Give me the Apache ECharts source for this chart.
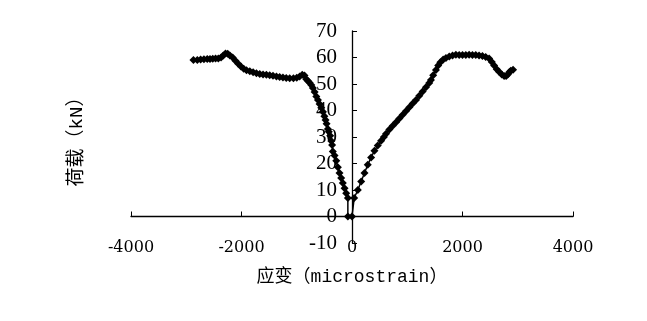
<!DOCTYPE html>
<html>
<head>
<meta charset="utf-8">
<script src="https://cdn.jsdelivr.net/npm/echarts@6/dist/echarts.min.js"></script>
<style>
  html, body { margin: 0; padding: 0; background: #fff; }
  #chart { width: 647px; height: 321px; }
</style>
</head>
<body>
<div id="chart"></div>
<script>
// 压应变一侧 (strain, load)
var leftStrain = [-75, -75, -105, -135, -166, -196, -226, -256, -285, -316, -347, -360, -375, -395, -420, -437, -460, -478, -500, -527, -556, -587, -617, -646, -677, -708, -736, -767, -800, -827, -860, -900, -948, -1000, -1060, -1128, -1190, -1250, -1310, -1368, -1430, -1490, -1550, -1610, -1670, -1730, -1790, -1850, -1910, -1960, -2010, -2060, -2110, -2160, -2210, -2250, -2290, -2330, -2370, -2420, -2470, -2520, -2570, -2620, -2680, -2740, -2800, -2870];
var leftLoad = [0, 7, 8.8, 10.7, 12.6, 14.5, 16.4, 18.6, 21, 23, 24.5, 27, 28.5, 30.5, 32, 33, 35, 36.4, 37.8, 39.5, 41, 42.5, 44, 45.3, 47, 48.5, 49.6, 50.5, 51.2, 51.8, 53.2, 53.5, 52.8, 52.4, 52.2, 52.2, 52.3, 52.5, 52.6, 52.8, 53.1, 53.3, 53.5, 53.6, 53.8, 54.1, 54.4, 54.8, 55.2, 55.8, 56.6, 57.6, 58.8, 60, 60.8, 61.4, 61.5, 60.8, 60, 59.6, 59.6, 59.5, 59.4, 59.4, 59.3, 59.2, 59.1, 59.1];

// 拉应变一侧
var rightStrain = [0, 40, 105, 166, 226, 285, 346, 406, 466, 527, 577, 617, 677, 737, 797, 857, 917, 978, 1038, 1098, 1158, 1218, 1278, 1338, 1398, 1429, 1470, 1519, 1560, 1600, 1650, 1700, 1760, 1820, 1880, 1940, 2000, 2060, 2120, 2180, 2240, 2300, 2361, 2420, 2482, 2530, 2572, 2620, 2662, 2710, 2753, 2790, 2820, 2850, 2873, 2915];
var rightLoad = [0, 7, 10, 13.2, 16.4, 19.5, 22.3, 24.8, 26.8, 28.6, 30, 31.2, 32.8, 34.2, 35.6, 37, 38.4, 39.8, 41.2, 42.6, 44, 45.6, 47.2, 48.8, 50.4, 51.5, 53.3, 55.3, 57, 58.2, 59.2, 59.8, 60.4, 60.8, 61, 60.9, 60.9, 60.9, 61, 60.9, 60.9, 60.8, 60.6, 60.2, 59.6, 58.3, 57, 55.6, 54.6, 53.6, 53, 53, 53.6, 54.5, 55, 55.4];

var xTicks = [-4000, -2000, 0, 2000, 4000];
var yTicks = [-10, 0, 10, 20, 30, 40, 50, 60, 70];

function pairs(xs, ys) {
  return xs.map(function (x, i) { return [x, ys[i]]; });
}

var chart = echarts.init(document.getElementById('chart'));

var nameFont = "'Liberation Mono', 'Noto Sans CJK SC', monospace";

function curve(data) {
  return {
    type: 'line',
    data: data,
    symbol: 'diamond',
    symbolSize: 8,
    showAllSymbol: true,
    itemStyle: { color: '#000' },
    lineStyle: { color: '#000', width: 1.5 },
    animation: false
  };
}

var option = {
  backgroundColor: '#fff',
  animation: false,
  grid: { left: 131, right: 74, top: 31, bottom: 78, containLabel: false, outerBoundsMode: 'none' },
  xAxis: {
    type: 'value',
    min: xTicks[0],
    max: xTicks[xTicks.length - 1],
    interval: 2000,
    name: '应变（microstrain）',
    nameLocation: 'middle',
    nameGap: 25,
    nameTextStyle: { fontFamily: nameFont, fontSize: 18, color: '#000' },
    axisLine: { onZero: true, lineStyle: { color: '#000', width: 1.3 } },
    axisTick: { inside: true, length: 5, lineStyle: { color: '#000' } },
    axisLabel: {
      margin: -3, fontFamily: "'DejaVu Serif', serif", fontSize: 16, color: '#000',
      formatter: function (v) { return String(v); }
    },
    splitLine: { show: false }
  },
  yAxis: {
    type: 'value',
    min: yTicks[0],
    max: yTicks[yTicks.length - 1],
    interval: 10,
    offset: -221,   // 纵轴放在应变 0 处
    name: '荷载（kN）',
    nameLocation: 'middle',
    nameGap: 266,
    nameRotate: 90,
    nameTextStyle: { fontFamily: nameFont, fontSize: 19, color: '#000' },
    axisLine: { onZero: false, lineStyle: { color: '#000', width: 1.3 } },
    axisTick: { inside: true, length: 5, lineStyle: { color: '#000' } },
    axisLabel: {
      margin: 15, fontFamily: "'Liberation Serif', serif", fontSize: 21, color: '#000',
      formatter: function (v) { return String(v); }
    },
    splitLine: { show: false }
  },
  series: [
    curve(pairs(leftStrain, leftLoad)),
    curve(pairs(rightStrain, rightLoad))
  ]
};

chart.setOption(option);
</script>
</body>
</html>
